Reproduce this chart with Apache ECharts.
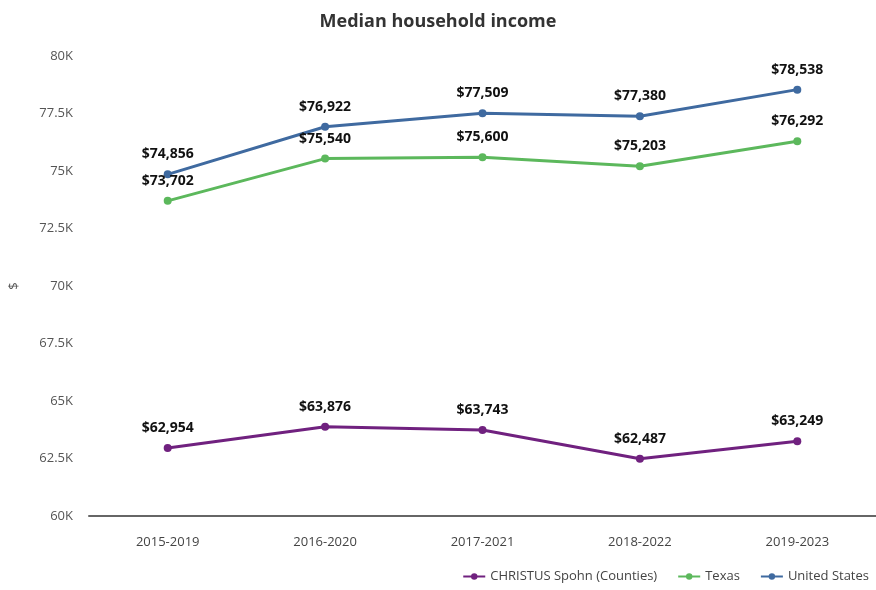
<!DOCTYPE html>
<html><head><meta charset="utf-8">
<script src="https://cdn.jsdelivr.net/npm/echarts@6/dist/echarts.min.js"></script>
<style>html,body{margin:0;padding:0;background:#fff}#c{width:876px;height:590px}</style>
</head><body><div id="c"></div>
<script>
const categories = ["2015-2019","2016-2020","2017-2021","2018-2022","2019-2023"];
const christus = [62954, 63876, 63743, 62487, 63249];
const texas = [73702, 75540, 75600, 75203, 76292];
const us = [74856, 76922, 77509, 77380, 78538];
const seriesNames = ["CHRISTUS Spohn (Counties)", "Texas", "United States"];
const colors = ["#70217f", "#5cb85c", "#3f6aa0"];
const font = "'Open Sans', 'Noto Sans', sans-serif";
const fmt = v => '$' + v.toLocaleString('en-US');
function mk(name, data, color){
  return {name, type:'line', data, color, symbol:'circle', symbolSize:8,
    lineStyle:{width:3, color}, itemStyle:{color},
    label:{show:true, position:'top', distance:9, formatter:p=>fmt(p.value),
      fontFamily:font, fontWeight:'bold', fontSize:14, color:'#111'}};
}
const chart = echarts.init(document.getElementById('c'));
chart.setOption({
  animation:false,
  title:{text:'Median household income', left:'center', top:8,
    textStyle:{fontFamily:font, fontWeight:'bold', fontSize:18, color:'#333'}},
  legend:{bottom:2, right:2, itemWidth:22, itemHeight:8, itemGap:20,
    textStyle:{fontFamily:font, fontSize:13, color:'#444'}, data:seriesNames},
  grid:{left:82, right:-8, top:56, bottom:74},
  xAxis:{type:'category', data:categories, boundaryGap:true,
    axisLine:{lineStyle:{color:'#666', width:2}}, axisTick:{show:false},
    axisLabel:{fontFamily:font, fontSize:13, color:'#444', margin:20}},
  yAxis:{type:'value', min:60000, max:80000, interval:2500,
    name:'$', nameLocation:'middle', nameGap:68, nameRotate:90,
    nameTextStyle:{fontFamily:font, fontSize:13, color:'#555'},
    axisLine:{show:false}, axisTick:{show:false}, splitLine:{show:false},
    axisLabel:{fontFamily:font, fontSize:13, color:'#555', margin:16,
      formatter:v=>(v/1000)+'K'}},
  series:[mk(seriesNames[0], christus, colors[0]), mk(seriesNames[1], texas, colors[1]), mk(seriesNames[2], us, colors[2])]
});
</script></body></html>
